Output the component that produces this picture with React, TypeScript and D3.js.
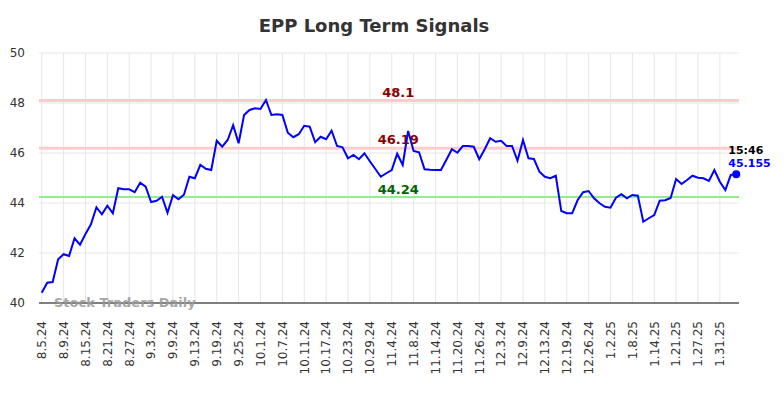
import React, {useEffect, useRef} from 'react';
import * as d3 from "d3"

// one tick label every 4 trading days
const tickLabels = [
    "8.5.24", "8.9.24", "8.15.24", "8.21.24", "8.27.24", "9.3.24", "9.9.24", "9.13.24",
    "9.19.24", "9.25.24", "10.1.24", "10.7.24", "10.11.24", "10.17.24", "10.23.24", "10.29.24",
    "11.4.24", "11.8.24", "11.14.24", "11.20.24", "11.26.24", "12.3.24", "12.9.24", "12.13.24",
    "12.19.24", "12.26.24", "1.2.25", "1.8.25", "1.14.25", "1.21.25", "1.27.25", "1.31.25"
]

const prices = [
    40.41, 40.81, 40.84, 41.75, 41.95, 41.88, 42.59, 42.33, 42.76, 43.15,
    43.83, 43.55, 43.89, 43.59, 44.59, 44.55, 44.55, 44.43, 44.81, 44.65,
    44.04, 44.09, 44.25, 43.61, 44.31, 44.15, 44.33, 45.05, 44.99, 45.53,
    45.37, 45.32, 46.49, 46.25, 46.52, 47.11, 46.39, 47.52, 47.72, 47.79,
    47.76, 48.12, 47.52, 47.55, 47.52, 46.81, 46.63, 46.75, 47.09, 47.05,
    46.43, 46.65, 46.55, 46.89, 46.28, 46.23, 45.79, 45.92, 45.75, 45.99,
    45.67, 45.36, 45.05, 45.19, 45.32, 45.97, 45.52, 46.88, 46.08, 46.03,
    45.35, 45.33, 45.32, 45.32, 45.73, 46.15, 46.01, 46.28, 46.28, 46.25,
    45.75, 46.15, 46.59, 46.45, 46.49, 46.28, 46.28, 45.69, 46.52, 45.79,
    45.76, 45.25, 45.05, 44.99, 45.09, 43.68, 43.59, 43.59, 44.12, 44.43,
    44.48, 44.19, 43.99, 43.85, 43.81, 44.21, 44.35, 44.19, 44.32, 44.29,
    43.25, 43.39, 43.52, 44.09, 44.11, 44.2, 44.96, 44.76, 44.92, 45.09,
    45.01, 44.99, 44.88, 45.32, 44.85, 44.52, 45.12, 45.155
]

const yTicks = [40, 42, 44, 46, 48, 50]

// signal levels
const resistLevels = [48.1, 46.19]
const supportLevels = [44.24]

const lastTime = "15:46"
const font = "'DejaVu Sans', sans-serif"

const App = () => {
    const svgRef = useRef(null)
    const width = 784, height = 398
    const margin = {top: 53, right: 45, bottom: 95, left: 39}

    useEffect(() => {
        const svgEl = d3.select(svgRef.current)
        svgEl.selectAll("*").remove()

        const x = d3.scaleBand()
            .domain(d3.range(prices.length))
            .range([margin.left, width - margin.right])
        const cx = (i) => x(i) + x.bandwidth() / 2
        const y = d3.scaleLinear()
            .domain([40, 50])
            .range([height - margin.bottom, margin.top])

        // title
        svgEl.append("text")
            .attr("x", 374)
            .attr("y", 32)
            .attr("text-anchor", "middle")
            .attr("font-family", font)
            .attr("font-weight", "bold")
            .attr("font-size", 18)
            .attr("fill", "#333")
            .text("EPP Long Term Signals")

        // grid
        const grid = svgEl.append("g")
        grid.selectAll(".hg")
            .data(yTicks.slice(1))
            .enter()
            .append("line")
            .attr("x1", margin.left)
            .attr("x2", width - margin.right)
            .attr("y1", d => y(d))
            .attr("y2", d => y(d))
            .attr("stroke", "#e6e6e6")
        grid.selectAll(".vg")
            .data(tickLabels)
            .enter()
            .append("line")
            .attr("x1", (d, i) => cx(i * 4))
            .attr("x2", (d, i) => cx(i * 4))
            .attr("y1", margin.top)
            .attr("y2", height - margin.bottom)
            .attr("stroke", "#e6e6e6")

        // y labels
        svgEl.append("g").selectAll("text")
            .data(yTicks)
            .enter()
            .append("text")
            .attr("x", 25)
            .attr("y", d => y(d))
            .attr("dy", "0.36em")
            .attr("text-anchor", "end")
            .attr("font-family", font)
            .attr("font-size", 12)
            .attr("fill", "#333")
            .text(d => d)

        // x labels, rotated
        svgEl.append("g").selectAll("text")
            .data(tickLabels)
            .enter()
            .append("text")
            .attr("transform", (d, i) => `translate(${cx(i * 4)}, ${height - margin.bottom + 18}) rotate(-90)`)
            .attr("dy", "0.36em")
            .attr("text-anchor", "end")
            .attr("font-family", font)
            .attr("font-size", 12)
            .attr("fill", "#333")
            .text(d => d)

        // signal lines
        const midX = cx(65) + 1
        resistLevels.forEach(v => {
            svgEl.append("line")
                .attr("x1", margin.left).attr("x2", width - margin.right)
                .attr("y1", y(v)).attr("y2", y(v))
                .attr("stroke", "#ffcccc").attr("stroke-width", 3)
            svgEl.append("text")
                .attr("x", midX).attr("y", y(v) - 4)
                .attr("text-anchor", "middle")
                .attr("font-family", font).attr("font-weight", "bold").attr("font-size", 13)
                .attr("fill", "#8b0000")
                .text(v)
        })
        supportLevels.forEach(v => {
            svgEl.append("line")
                .attr("x1", margin.left).attr("x2", width - margin.right)
                .attr("y1", y(v)).attr("y2", y(v))
                .attr("stroke", "#90ee90").attr("stroke-width", 2)
            svgEl.append("text")
                .attr("x", midX).attr("y", y(v) - 3)
                .attr("text-anchor", "middle")
                .attr("font-family", font).attr("font-weight", "bold").attr("font-size", 13)
                .attr("fill", "#006400")
                .text(v)
        })

        // x axis line
        svgEl.append("line")
            .attr("x1", margin.left).attr("x2", width - margin.right)
            .attr("y1", y(40)).attr("y2", y(40))
            .attr("stroke", "#555").attr("stroke-width", 1.5)

        // watermark
        svgEl.append("text")
            .attr("x", 54).attr("y", y(40) + 4)
            .attr("font-family", font).attr("font-weight", "bold").attr("font-size", 13)
            .attr("fill", "#999").attr("opacity", 0.85)
            .text("Stock Traders Daily")

        // price line
        const line = d3.line()
            .x((d, i) => cx(i))
            .y(d => y(d))
        svgEl.append("path")
            .datum(prices)
            .attr("d", line)
            .attr("fill", "none")
            .attr("stroke", "#0000ff")
            .attr("stroke-width", 2)

        // last point
        const li = prices.length - 1
        svgEl.append("circle")
            .attr("cx", cx(li)).attr("cy", y(prices[li]))
            .attr("r", 4).attr("fill", "#0000ff")
        svgEl.append("text")
            .attr("x", cx(li) - 8).attr("y", y(prices[li]) - 20)
            .attr("font-family", font).attr("font-weight", "bold").attr("font-size", 11)
            .attr("fill", "#000")
            .text(lastTime)
        svgEl.append("text")
            .attr("x", cx(li) - 8).attr("y", y(prices[li]) - 7)
            .attr("font-family", font).attr("font-weight", "bold").attr("font-size", 11)
            .attr("fill", "#0000ff")
            .text(prices[li])
    }, [])

    return <svg ref={svgRef} width={width} height={height}
                style={{position: "absolute", left: 0, top: 0}}/>
};

export default App;
